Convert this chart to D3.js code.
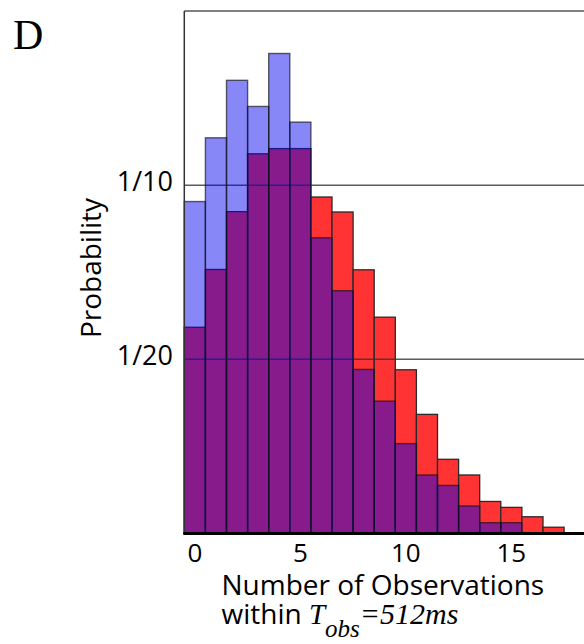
<html>
<head>
<script src="https://d3js.org/d3.v7.min.js"></script>
<style>
    body { margin: 0; background: #fff; }
    svg { display: block; }
    .lbl { font-family: 'Open Sans', sans-serif; fill: #000; }
    .serif { font-family: 'Liberation Serif', 'Times New Roman', serif; }
</style>
</head>
<body>
<svg id='the-chart' width=584 height=644></svg>
<script>

    // number of observations per bin (0 .. 17)
    var counts = d3.range(18);
    // probability, blue (top, translucent) and red (underneath)
    var blueVals = [0.0953, 0.1136, 0.1301, 0.1226, 0.1378, 0.1181, 0.0849, 0.0697, 0.0471,
                    0.0380, 0.0258, 0.0168, 0.0138, 0.0079, 0.0031, 0.0031, 0, 0];
    var redVals  = [0.0592, 0.0758, 0.0924, 0.1090, 0.1105, 0.1105, 0.0966, 0.0923, 0.0757,
                    0.0621, 0.0470, 0.0342, 0.0213, 0.0168, 0.0092, 0.0075, 0.0048, 0.0018];
    var xTicks = [0, 5, 10, 15];
    var yTicks = [0.05, 0.1];
    var yTickLabels = ['1/20', '1/10'];

    var svg = d3.select('#the-chart');
    var plotLeft = 184.3, plotTop = 11, plotBottom = 533.5, plotRight = 584;

    var x = d3.scaleLinear().domain([0, 19]).range([plotLeft, plotLeft + 19 * 21.1]);
    var y = d3.scaleLinear().domain([0, 0.15]).range([plotBottom, plotTop]);

    // red bars first
    svg.append('g').selectAll('rect')
        .data(counts)
      .enter().append('rect')
        .attr('x', function(d) { return x(d); })
        .attr('width', x(1) - x(0))
        .attr('y', function(d) { return y(redVals[d]); })
        .attr('height', function(d) { return y(0) - y(redVals[d]); })
        .attr('fill', 'rgb(255,51,51)')
        .attr('stroke', '#2a2a2a')
        .attr('stroke-width', 1.3);

    // grid lines
    svg.append('g').selectAll('line')
        .data(yTicks)
      .enter().append('line')
        .attr('x1', plotLeft).attr('x2', plotRight)
        .attr('y1', function(d) { return y(d); })
        .attr('y2', function(d) { return y(d); })
        .attr('stroke', '#333')
        .attr('stroke-opacity', 0.8)
        .attr('stroke-width', 1.5);

    // translucent blue bars on top
    svg.append('g').selectAll('rect')
        .data(counts.filter(function(d) { return blueVals[d] > 0; }))
      .enter().append('rect')
        .attr('x', function(d) { return x(d); })
        .attr('width', x(1) - x(0))
        .attr('y', function(d) { return y(blueVals[d]); })
        .attr('height', function(d) { return y(0) - y(blueVals[d]); })
        .attr('fill', 'rgb(0,0,240)')
        .attr('fill-opacity', 0.47)
        .attr('stroke', '#111')
        .attr('stroke-opacity', 0.65)
        .attr('stroke-width', 1.4);

    // frame
    svg.append('line')
        .attr('x1', plotLeft).attr('x2', plotRight).attr('y1', plotTop).attr('y2', plotTop)
        .attr('stroke', '#555').attr('stroke-width', 1.5);
    svg.append('line')
        .attr('x1', plotLeft).attr('x2', plotLeft).attr('y1', plotTop).attr('y2', plotBottom)
        .attr('stroke', '#333').attr('stroke-width', 1.5);
    svg.append('line')
        .attr('x1', plotLeft - 1).attr('x2', plotRight).attr('y1', plotBottom).attr('y2', plotBottom)
        .attr('stroke', '#000').attr('stroke-width', 3);

    // tick labels
    svg.append('g').selectAll('text')
        .data(yTicks)
      .enter().append('text')
        .attr('class', 'lbl')
        .attr('x', 173)
        .attr('y', function(d) { return y(d); })
        .attr('dy', '0.2em')
        .attr('text-anchor', 'end')
        .style('font-size', '27px')
        .text(function(d, i) { return yTickLabels[i]; });

    svg.append('g').selectAll('text')
        .data(xTicks)
      .enter().append('text')
        .attr('class', 'lbl')
        .attr('x', function(d) { return x(d + 0.5); })
        .attr('y', 562)
        .attr('text-anchor', 'middle')
        .style('font-size', '26px')
        .text(function(d) { return d; });

    // axis titles
    svg.append('text')
        .attr('class', 'lbl')
        .attr('transform', 'translate(101,268) rotate(-90)')
        .attr('text-anchor', 'middle')
        .style('font-size', '28px')
        .text('Probability');

    svg.append('text')
        .attr('class', 'lbl')
        .attr('x', 221.5).attr('y', 595)
        .style('font-size', '28px')
        .text('Number of Observations');

    var t2 = svg.append('text')
        .attr('class', 'lbl')
        .attr('x', 221.5).attr('y', 624)
        .style('font-size', '28px');
    t2.append('tspan').text('within ');
    t2.append('tspan').attr('class', 'serif').style('font-style', 'italic')
        .style('font-size', '29px').text('T');
    t2.append('tspan').attr('class', 'serif').style('font-style', 'italic')
        .style('font-size', '25px').attr('dy', 13).text('obs');
    t2.append('tspan').attr('class', 'serif').style('font-style', 'italic')
        .style('font-size', '30px').attr('dy', -13).text('=512ms');

    // panel letter
    svg.append('text')
        .attr('class', 'serif')
        .attr('x', 13).attr('y', 49)
        .style('font-size', '42px')
        .attr('fill', '#000')
        .text('D');

</script>
</body>
</html>
